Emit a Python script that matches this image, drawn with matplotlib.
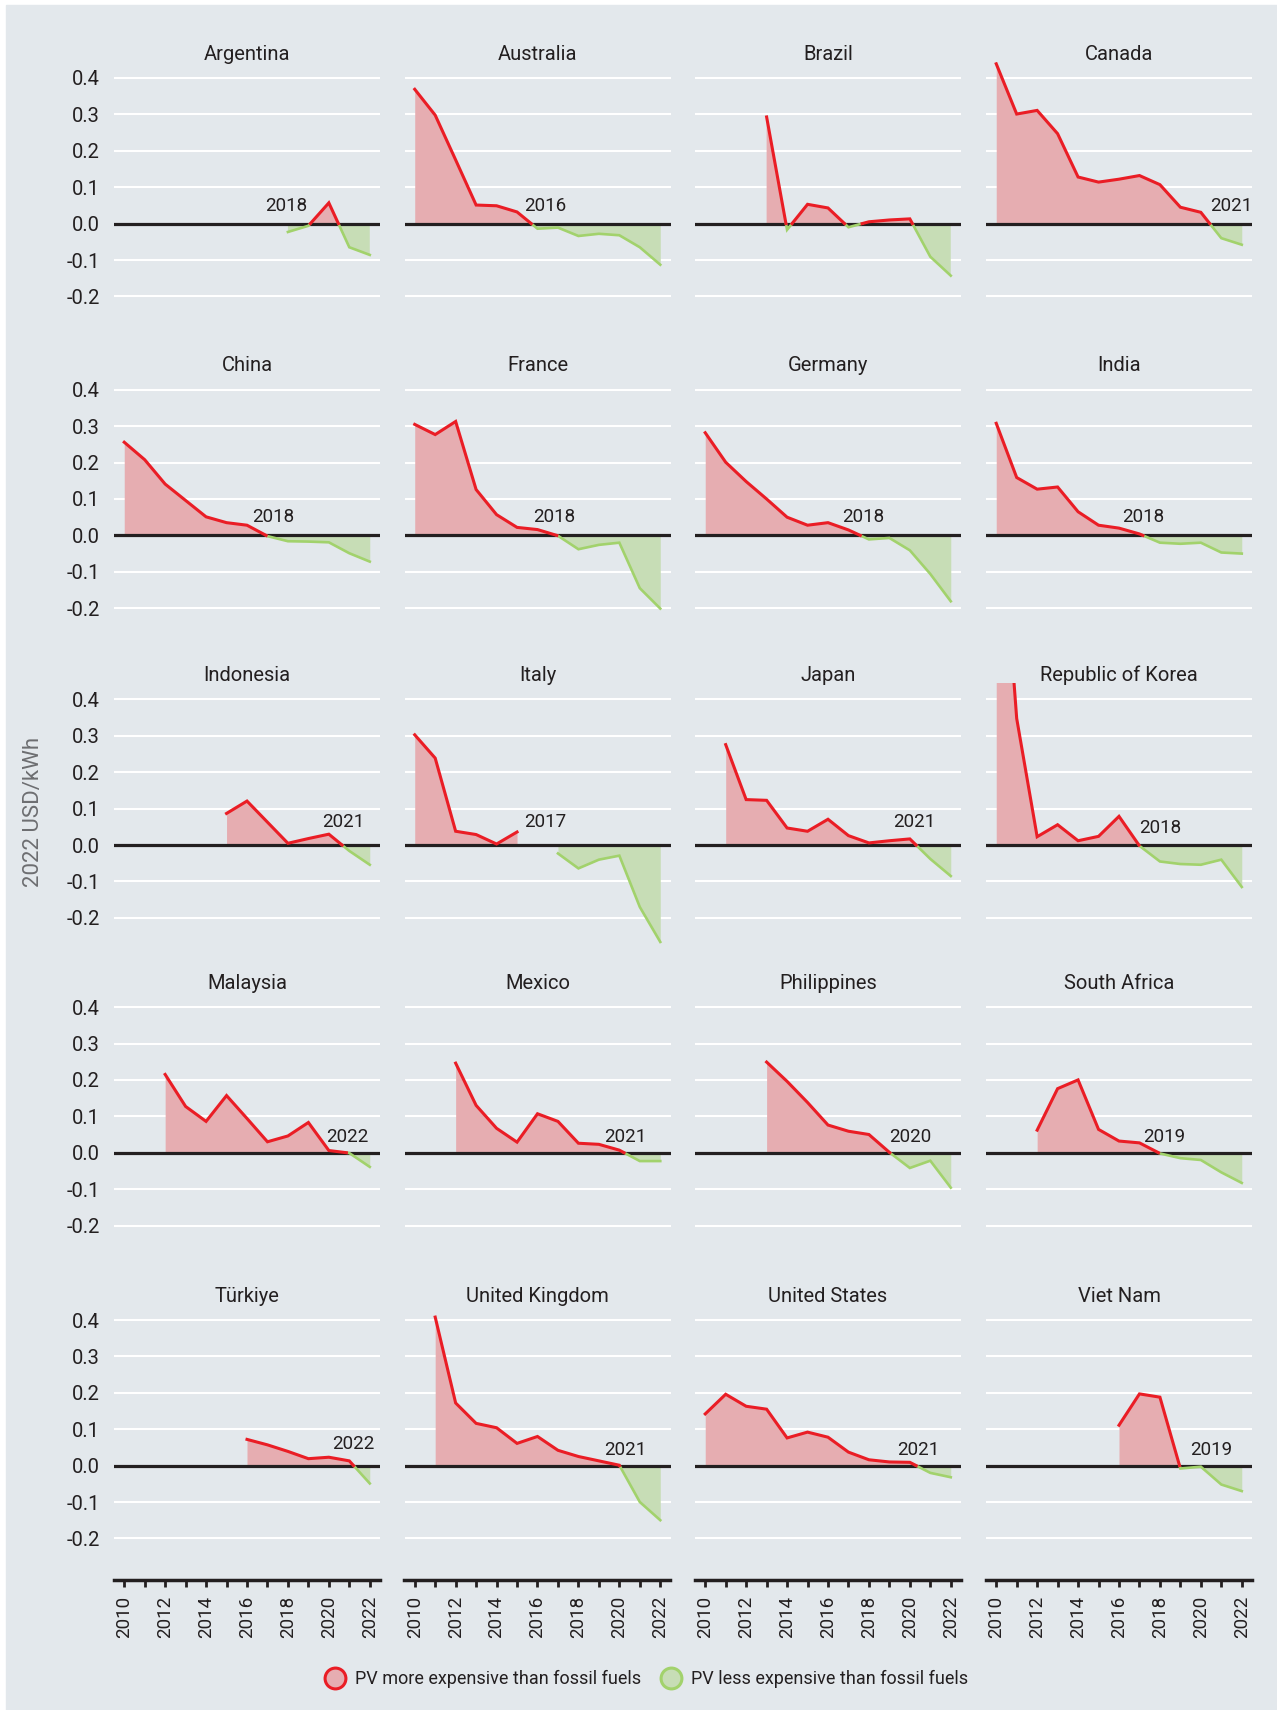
import numpy as np
import matplotlib
matplotlib.use("Agg")
import matplotlib.pyplot as plt
from matplotlib.lines import Line2D
from matplotlib.patches import Rectangle

plt.rcParams['font.family'] = ['Roboto', 'DejaVu Sans']

years = np.arange(2010, 2023)
nan = np.nan

countries = ["Argentina", "Australia", "Brazil", "Canada",
             "China", "France", "Germany", "India",
             "Indonesia", "Italy", "Japan", "Republic of Korea",
             "Malaysia", "Mexico", "Philippines", "South Africa",
             "Türkiye", "United Kingdom", "United States", "Viet Nam"]

# difference PV minus fossil, 2022 USD/kWh, 2010..2022
argentina = [nan, nan, nan, nan, nan, nan, nan, nan, -0.023, -0.006, 0.057, -0.065, -0.086]
australia = [0.369, 0.298, 0.175, 0.051, 0.049, 0.032, -0.014, -0.011, -0.034, -0.028, -0.032, -0.065, -0.113]
brazil = [nan, nan, nan, 0.293, -0.017, 0.053, 0.043, -0.010, 0.005, 0.010, 0.013, -0.091, -0.143]
canada = [0.439, 0.301, 0.311, 0.247, 0.128, 0.114, 0.122, 0.132, 0.107, 0.045, 0.031, -0.040, -0.058]
china = [0.256, 0.208, 0.141, 0.096, 0.051, 0.035, 0.028, -0.002, -0.016, -0.017, -0.019, -0.049, -0.072]
france = [0.305, 0.277, 0.313, 0.126, 0.057, 0.022, 0.016, -0.001, -0.038, -0.026, -0.020, -0.145, -0.201]
germany = [0.282, 0.201, 0.148, 0.100, 0.050, 0.028, 0.035, 0.015, -0.011, -0.007, -0.041, -0.106, -0.181]
india = [0.308, 0.159, 0.127, 0.133, 0.065, 0.028, 0.020, 0.004, -0.020, -0.023, -0.020, -0.047, -0.050]
indonesia = [nan, nan, nan, nan, nan, 0.087, 0.121, 0.063, 0.005, 0.018, 0.030, -0.016, -0.054]
italy = [0.303, 0.239, 0.038, 0.029, 0.003, 0.036, nan, -0.023, -0.064, -0.040, -0.029, -0.170, -0.266]
japan = [nan, 0.276, 0.125, 0.123, 0.047, 0.038, 0.071, 0.026, 0.006, 0.012, 0.017, -0.038, -0.085]
korea = [1.10, 0.348, 0.023, 0.056, 0.012, 0.024, 0.079, -0.002, -0.045, -0.052, -0.054, -0.040, -0.115]
malaysia = [nan, nan, 0.215, 0.127, 0.086, 0.157, 0.094, 0.030, 0.046, 0.083, 0.006, -0.001, -0.039]
mexico = [nan, nan, 0.246, 0.130, 0.067, 0.029, 0.107, 0.086, 0.026, 0.023, 0.007, -0.023, -0.023]
philippines = [nan, nan, nan, 0.249, 0.196, 0.138, 0.076, 0.059, 0.050, 0.001, -0.042, -0.022, -0.096]
south_africa = [nan, nan, 0.062, 0.176, 0.200, 0.064, 0.032, 0.027, -0.002, -0.015, -0.020, -0.054, -0.083]
turkiye = [nan, nan, nan, nan, nan, nan, 0.072, 0.057, 0.039, 0.019, 0.023, 0.013, -0.049]
uk = [nan, 0.408, 0.172, 0.116, 0.104, 0.061, 0.080, 0.042, 0.025, 0.013, 0.001, -0.100, -0.150]
us = [0.142, 0.196, 0.163, 0.155, 0.076, 0.092, 0.078, 0.037, 0.016, 0.010, 0.009, -0.020, -0.032]
viet_nam = [nan, nan, nan, nan, nan, nan, 0.111, 0.197, 0.188, -0.008, -0.003, -0.052, -0.070]

series = [argentina, australia, brazil, canada, china, france, germany, india,
          indonesia, italy, japan, korea, malaysia, mexico, philippines, south_africa,
          turkiye, uk, us, viet_nam]

# year annotation shown in each panel and where it sits (x year, y value)
year_labels = ["2018", "2016", "", "2021", "2018", "2018", "2018", "2018",
               "2021", "2017", "2021", "2018", "2022", "2021", "2020", "2019",
               "2022", "2021", "2021", "2019"]
label_x = [2017.9, 2016.4, 0, 2021.5, 2017.3, 2016.8, 2017.7, 2017.2,
           2020.7, 2016.4, 2020.2, 2018.0, 2020.9, 2020.3, 2020.0, 2018.2,
           2021.2, 2020.3, 2020.4, 2020.5]
label_y = [0.048, 0.048, 0, 0.048, 0.05, 0.05, 0.05, 0.05,
           0.064, 0.064, 0.064, 0.046, 0.044, 0.044, 0.044, 0.044,
           0.06, 0.044, 0.043, 0.043]

RED = '#ea1d25'
PINK = '#e6adb1'
GREEN = '#a2d26c'
LGREEN = '#c7ddb6'
BG = '#e3e8ec'
DARK = '#231f20'


def add_crossings(x, y):
    xs, ys = [], []
    for i in range(len(x)):
        if i > 0 and not np.isnan(y[i - 1]) and not np.isnan(y[i]) and y[i - 1] * y[i] < 0:
            xs.append(x[i - 1] + (x[i] - x[i - 1]) * y[i - 1] / (y[i - 1] - y[i]))
            ys.append(0.0)
        xs.append(x[i])
        ys.append(y[i])
    return np.array(xs, dtype=float), np.array(ys, dtype=float)


W, H = 1277, 1710
fig = plt.figure(figsize=(W / 100, H / 100), dpi=100)
fig.patches.append(Rectangle((6 / W, 0), 1 - 6 / W, 1 - 5 / H, transform=fig.transFigure,
                             color=BG, zorder=-10))

col_left = [114, 404.5, 695, 986]
row_zero = [223.6, 535.4, 845.1, 1152.7, 1465.6]
px = 364.0  # pixels per 1.0 USD/kWh
ylo, yhi = -0.315, 0.445

for k, name in enumerate(countries):
    r, c = divmod(k, 4)
    top = row_zero[r] - yhi * px
    h = (yhi - ylo) * px
    ax = fig.add_axes([col_left[c] / W, 1 - (top + h) / H, 266 / W, h / H])
    ax.set_facecolor('none')
    ax.set_xlim(2009.5, 2022.5)
    ax.set_ylim(ylo, yhi)

    for g in [0.4, 0.3, 0.2, 0.1, -0.1, -0.2]:
        ax.axhline(g, color='white', lw=1.5, zorder=1)
    ax.axhline(0, color=DARK, lw=2.3, zorder=2.5)

    xs, ys = add_crossings(years, np.array(series[k], dtype=float))
    with np.errstate(invalid='ignore'):
        pos = np.where(ys >= 0, ys, np.nan)
        neg = np.where(ys <= 0, ys, np.nan)
        ax.fill_between(xs, ys, 0, where=ys >= 0, color=PINK, lw=0, zorder=2)
        ax.fill_between(xs, ys, 0, where=ys <= 0, color=LGREEN, lw=0, zorder=2)
    ax.plot(xs, neg, color=GREEN, lw=1.9, zorder=3, solid_joinstyle='miter')
    ax.plot(xs, pos, color=RED, lw=2.2, zorder=3.2, solid_joinstyle='miter')

    if year_labels[k]:
        ax.text(label_x[k], label_y[k], year_labels[k], ha='center', va='center',
                fontsize=13.5, color=DARK, zorder=4)

    # title sits just above the plotting area
    ax.text(0.5, 1 + 7.5 / h, name, transform=ax.transAxes, ha='center', va='center',
            fontsize=14.5, color=DARK)

    for s in ['top', 'right', 'left']:
        ax.spines[s].set_visible(False)

    ax.set_yticks([0.4, 0.3, 0.2, 0.1, 0.0, -0.1, -0.2])
    if c == 0:
        ax.set_yticklabels(['0.4', '0.3', '0.2', '0.1', '0.0', '-0.1', '-0.2'])
        ax.tick_params(axis='y', length=0, pad=10, labelsize=14.5, labelcolor=DARK)
    else:
        ax.tick_params(axis='y', length=0, labelleft=False)

    if r == 4:
        ax.spines['bottom'].set_color(DARK)
        ax.spines['bottom'].set_linewidth(2.5)
        ax.set_xticks(years[::2])
        ax.set_xticks(years[1::2], minor=True)
        ax.set_xticklabels([str(y) for y in years[::2]], rotation=90)
        ax.tick_params(axis='x', which='both', direction='out', length=5, width=2,
                       color=DARK, labelsize=13.5, labelcolor=DARK, pad=6)
    else:
        ax.spines['bottom'].set_visible(False)
        ax.set_xticks([])

fig.text(34 / W, 1 - 812 / H, '2022 USD/kWh', rotation=90, ha='center', va='center',
         fontsize=16, color='#6d6e71')

handles = [Line2D([], [], marker='o', ls='none', ms=15, mfc=PINK, mec=RED, mew=2.2),
           Line2D([], [], marker='o', ls='none', ms=15, mfc=LGREEN, mec=GREEN, mew=2.2)]
fig.legend(handles, ['PV more expensive than fossil fuels', 'PV less expensive than fossil fuels'],
           loc='center', bbox_to_anchor=(647 / W, 1 - 1679 / H), ncol=2, frameon=False,
           fontsize=13, handlelength=1.0, handletextpad=0.6, columnspacing=1.2, labelcolor=DARK)

fig.savefig('out.png', dpi=100)
